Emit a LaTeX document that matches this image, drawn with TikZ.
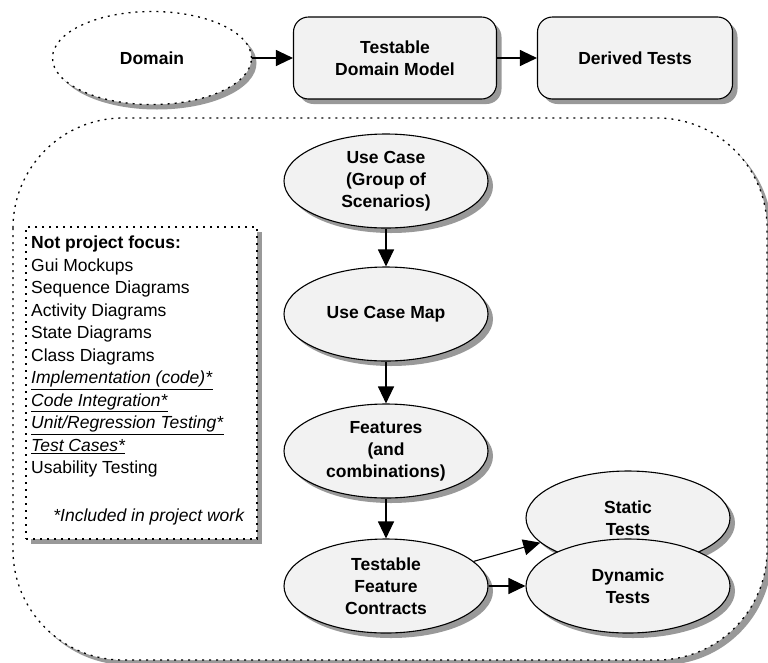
\documentclass[tikz,border=0pt]{standalone}
\usepackage{fontspec}
\setmainfont{Liberation Sans}
\usepackage{xcolor}
\usetikzlibrary{arrows.meta,shapes.geometric,shadows}
\definecolor{shadowgray}{RGB}{153,153,153}
\definecolor{nodefill}{RGB}{242,242,242}

\begin{document}
\begin{tikzpicture}[x=1pt,y=-1pt,
    every node/.style={font=\bfseries\fontsize{17.5}{22}\selectfont, align=center},
    myshadow/.style={drop shadow={shadow xshift=5pt,shadow yshift=-5pt,fill=shadowgray,opacity=1}},
    dots/.style={line width=1.3pt, dash pattern=on 2pt off 5pt},
    oval/.style={ellipse, draw, line width=1.1pt, fill=nodefill, minimum width=204pt, minimum height=94pt, inner sep=0pt, myshadow},
    rbox/.style={rectangle, rounded corners=15pt, draw, line width=1.1pt, fill=nodefill, minimum height=82pt, inner sep=0pt, myshadow},
    notetext/.style={font=\fontsize{17.5}{22.5}\selectfont, align=left, inner sep=0pt},
    arr/.style={line width=1.1pt, -{Triangle[length=17pt,width=16pt]}}]
  \useasboundingbox (0,0) rectangle (768,662);
  % Top row
  \node[ellipse, draw, dots, fill=white, minimum width=199pt, minimum height=93pt, myshadow] (domain) at (152,58) {Domain};
  \node[rbox, minimum width=203pt] (tdm) at (395,58) {Testable\\Domain Model};
  \node[rbox, minimum width=195pt] (derived) at (635,58) {Derived Tests};
  \draw[arr] (domain) -- (tdm);
  \draw[arr] (tdm) -- (derived);
  % Dotted frame round the use case work
  \draw[dots, fill=white, myshadow, rounded corners=110pt] (13,118) rectangle (767,660);
  % Note box
  \node[draw, dots, fill=white, myshadow, minimum width=231pt, minimum height=312pt, inner sep=0pt] (notebox) at (141.5,383) {};
  \node[notetext, anchor=north west] (notes) at (31,236) {\textbf{Not project focus:}\\
    Gui Mockups\\
    Sequence Diagrams\\
    Activity Diagrams\\
    State Diagrams\\
    Class Diagrams\\
    \underline{\textit{Implementation (code)*}}\\
    \underline{\textit{Code Integration*}}\\
    \underline{\textit{Unit/Regression Testing*}}\\
    \underline{\textit{Test Cases*}}\\
    Usability Testing};
  \node[notetext, anchor=base east] (incl) at (245,521) {\textit{*Included in project work}};
  % Use case chain
  \node[oval] (usecase) at (386,181) {Use Case\\(Group of\\Scenarios)};
  \node[oval] (ucmap) at (386,314) {Use Case Map};
  \node[oval] (features) at (386,451) {Features\\(and\\combinations)};
  \node[oval] (contracts) at (386,586) {Testable\\Feature\\Contracts};
  \node[oval] (static) at (628,518) {Static\\Tests};
  \node[oval] (dynamic) at (628,586) {Dynamic\\Tests};
  \draw[arr] (usecase) -- (ucmap);
  \draw[arr] (ucmap) -- (features);
  \draw[arr] (features) -- (contracts);
  \draw[arr] (contracts) -- (static);
  \draw[arr] (contracts) -- (dynamic);
\end{tikzpicture}
\end{document}
